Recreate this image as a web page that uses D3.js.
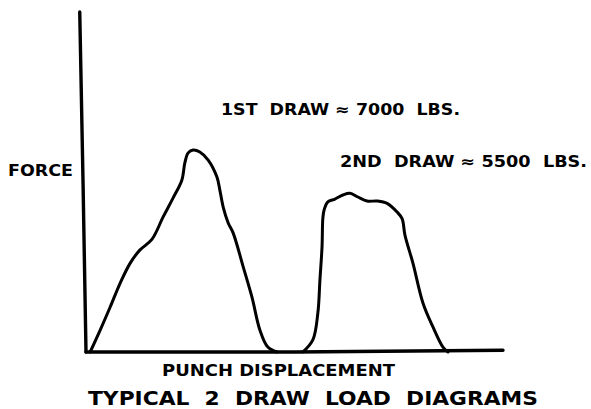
<!DOCTYPE html>
<html>
<head>
<meta charset="utf-8">
<script src="https://cdn.jsdelivr.net/npm/d3@7"></script>
<style>
  html, body { margin: 0; padding: 0; background: #fff; }
  svg { display: block; }
  text { font-family: "DejaVu Sans", "Liberation Sans", sans-serif; font-weight: bold; fill: #000; white-space: pre; }
</style>
</head>
<body>
<script>
// Punch displacement (in.) and force (lbs) for each draw
const draw1Displacement = [0.10, 0.34, 0.58, 0.82, 1.06, 1.29, 1.58, 1.85, 2.09, 2.30, 2.37, 2.45, 2.57, 2.73, 2.93, 3.14, 3.21, 3.29, 3.41, 3.53, 3.77, 3.98, 4.17, 4.36, 4.58];
const draw1Force        = [0, 760, 1560, 2390, 3080, 3530, 3900, 4680, 5340, 5960, 6550, 6900, 7000, 6930, 6650, 6060, 5610, 5020, 4470, 4120, 2950, 1900, 760, 170, 0];

const draw2Displacement = [5.20, 5.44, 5.56, 5.61, 5.66, 5.68, 5.71, 5.80, 5.97, 6.16, 6.33, 6.52, 6.74, 6.98, 7.22, 7.46, 7.58, 7.65, 7.84, 8.08, 8.32, 8.56, 8.68];
const draw2Force        = [0, 420, 1350, 2500, 3640, 4640, 4920, 5200, 5300, 5440, 5500, 5370, 5230, 5230, 5150, 4850, 4620, 4040, 3080, 1700, 870, 170, 0];

const labels = {
  first: "1ST  DRAW ≈ 7000  LBS.",
  second: "2ND  DRAW ≈ 5500  LBS.",
  yTitle: "FORCE",
  xTitle: "PUNCH DISPLACEMENT",
  title: "TYPICAL  2  DRAW  LOAD  DIAGRAMS"
};

const W = 591, H = 409;
const svg = d3.select("body").append("svg").attr("width", W).attr("height", H);

const x = d3.scaleLinear().domain([0, 10]).range([86, 503]);
const y = d3.scaleLinear().domain([0, 11780]).range([352, 12]);

const line = d3.line()
  .x(d => x(d[0]))
  .y(d => y(d[1]))
  .curve(d3.curveCatmullRom.alpha(0.5));

// Axes: hand-ruled lines, the force axis leaning slightly
svg.append("path")
  .attr("d", d3.line()([[x(-0.15), y(11780)], [x(-0.07), y(5800)], [x(0), y(0)]]))
  .attr("fill", "none").attr("stroke", "#000").attr("stroke-width", 3.4).attr("stroke-linecap", "round");
svg.append("path")
  .attr("d", d3.line()([[x(0), y(0)], [x(5), y(0)], [x(10), y(60)]]))
  .attr("fill", "none").attr("stroke", "#000").attr("stroke-width", 3.4).attr("stroke-linecap", "round");

const series = [
  d3.zip(draw1Displacement, draw1Force),
  d3.zip(draw2Displacement, draw2Force)
];

svg.selectAll("path.draw")
  .data(series)
  .join("path")
  .attr("class", "draw")
  .attr("d", line)
  .attr("fill", "none")
  .attr("stroke", "#000")
  .attr("stroke-width", 3)
  .attr("stroke-linejoin", "round")
  .attr("stroke-linecap", "round");

function label(txt, x0, base, width, size) {
  svg.append("text")
    .attr("xml:space", "preserve")
    .attr("x", x0).attr("y", base)
    .attr("font-size", size)
    .attr("textLength", width)
    .attr("lengthAdjust", "spacingAndGlyphs")
    .text(txt);
}

label(labels.first, 221, 115, 239, 15.5);
label(labels.second, 340, 167, 247, 15.5);
label(labels.yTitle, 8, 176, 65, 16.5);
label(labels.xTitle, 162, 376, 233, 16);
label(labels.title, 88, 405, 450, 20);
</script>
</body>
</html>
